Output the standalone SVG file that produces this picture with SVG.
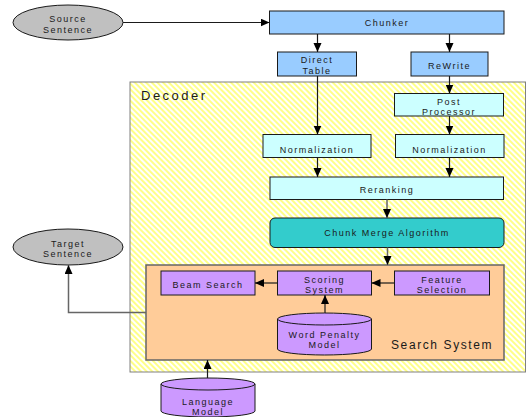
<svg xmlns="http://www.w3.org/2000/svg" width="527" height="417" viewBox="0 0 527 417">
<style>
text{font-family:"Liberation Sans",Arial,sans-serif;font-size:9px;letter-spacing:1.5px;fill:#1a1a1a;text-anchor:middle}
.big{font-size:13px;letter-spacing:2.5px;text-anchor:start}
.blue{fill:#99ccff;stroke:#1a1a1a;stroke-width:1}
.cyan{fill:#ccffff;stroke:#1a1a1a;stroke-width:1}
.teal{fill:#33cccc;stroke:#1a1a1a;stroke-width:1}
.purple{fill:#cc99ff;stroke:#1a1a1a;stroke-width:1}
.ell{fill:#c0c0c0;stroke:#1a1a1a;stroke-width:1}
.con{fill:none;stroke:#1a1a1a;stroke-width:1.2;marker-end:url(#ah)}
.grey{stroke:#666;stroke-width:1.5}
</style>
<defs>
<marker id="ah" markerUnits="userSpaceOnUse" markerWidth="10" markerHeight="9" refX="9" refY="4" orient="auto">
<path d="M0,0 L9,4 L0,8 z" fill="#000"/>
</marker>
<pattern id="hatch" width="4" height="4" patternUnits="userSpaceOnUse" patternTransform="rotate(-45)">
<rect width="4" height="4" fill="#fff"/>
<rect width="2" height="4" fill="#ffff88"/>
</pattern>
</defs>

<g id="decoder">
<rect x="130" y="82" width="395.5" height="290" fill="url(#hatch)" stroke="#808080" stroke-width="1"/>
<text class="big" x="141" y="100">Decoder</text>
</g>

<g id="source">
<ellipse class="ell" cx="68" cy="22.5" rx="55" ry="17.5"/>
<text x="68" y="21.5">Source</text>
<text x="68" y="32.5">Sentence</text>
</g>

<g id="chunker">
<rect class="blue" x="269.5" y="11" width="234.5" height="23"/>
<text x="387" y="25.5">Chunker</text>
</g>

<g id="direct-table">
<rect class="blue" x="277.5" y="52" width="79" height="24"/>
<text x="317" y="63">Direct</text>
<text x="317" y="74">Table</text>
</g>

<g id="rewrite">
<rect class="blue" x="411" y="52" width="77" height="24"/>
<text x="449.5" y="68.5">ReWrite</text>
</g>

<g id="post-processor">
<rect class="cyan" x="394.5" y="93.5" width="109" height="22.5"/>
<text x="449" y="105">Post</text>
<text x="449" y="115">Processor</text>
</g>

<g id="norm-left">
<rect class="cyan" x="263" y="134.5" width="108" height="23"/>
<text x="317" y="152.5">Normalization</text>
</g>

<g id="norm-right">
<rect class="cyan" x="395.5" y="134.5" width="108.5" height="23"/>
<text x="449.5" y="152.5">Normalization</text>
</g>

<g id="reranking">
<rect class="cyan" x="270" y="177" width="233.5" height="22.5"/>
<text x="387" y="193">Reranking</text>
</g>

<g id="chunk-merge">
<rect class="teal" x="270" y="218" width="234" height="29.5" rx="5"/>
<text x="387" y="235.5">Chunk Merge Algorithm</text>
</g>

<g id="search-system">
<rect x="146" y="265" width="358" height="95" fill="#ffcc99" stroke="#666" stroke-width="1.5"/>
<text class="big" x="391" y="348.5" style="font-size:12px;letter-spacing:1.6px">Search System</text>
</g>

<g id="beam-search">
<rect class="purple" x="161" y="271" width="94" height="24"/>
<text x="208" y="288">Beam Search</text>
</g>

<g id="scoring-system">
<rect class="purple" x="277.5" y="271" width="94" height="24"/>
<text x="324.5" y="283">Scoring</text>
<text x="324.5" y="293">System</text>
</g>

<g id="feature-selection">
<rect class="purple" x="394.5" y="271" width="95" height="24"/>
<text x="442" y="283">Feature</text>
<text x="442" y="293">Selection</text>
</g>

<g id="word-penalty">
<path class="purple" d="M277.5,319 A47,6 0 0 1 371.5,319 V349 A47,6 0 0 1 277.5,349 Z"/>
<path d="M277.5,319 A47,6 0 0 0 371.5,319" fill="none" stroke="#1a1a1a" stroke-width="1"/>
<text x="324.5" y="338">Word Penalty</text>
<text x="324.5" y="348">Model</text>
</g>

<g id="language-model">
<path class="purple" d="M161,384 A47,6 0 0 1 255,384 V411 A47,6 0 0 1 161,411 Z"/>
<path d="M161,384 A47,6 0 0 0 255,384" fill="none" stroke="#1a1a1a" stroke-width="1"/>
<text x="208" y="404.5">Language</text>
<text x="208" y="414.5">Model</text>
</g>

<g id="target">
<ellipse class="ell" cx="68" cy="247" rx="55" ry="18"/>
<text x="68" y="247">Target</text>
<text x="68" y="257">Sentence</text>
</g>

<g id="connectors">
<path class="con" d="M123,22.5 H269.5"/>
<path class="con" d="M317.5,34 V52"/>
<path class="con" d="M449.5,34 V52"/>
<path class="con" d="M317.5,76 V134.5"/>
<path class="con" d="M449.5,76 V93.5"/>
<path class="con" d="M449.5,116 V134.5"/>
<path class="con" d="M317.5,157.5 V177"/>
<path class="con" d="M449.5,157.5 V177"/>
<path class="con grey" d="M387,199.5 V218"/>
<path class="con grey" d="M387.5,247.5 V265"/>
<path class="con" d="M394.5,283 H371.5"/>
<path class="con" d="M277.5,283 H255"/>
<path class="con" d="M325,313 V295"/>
<path class="con grey" d="M146,312.5 H68.5 V265"/>
<path class="con" d="M207.5,378 V360"/>
</g>
</svg>
